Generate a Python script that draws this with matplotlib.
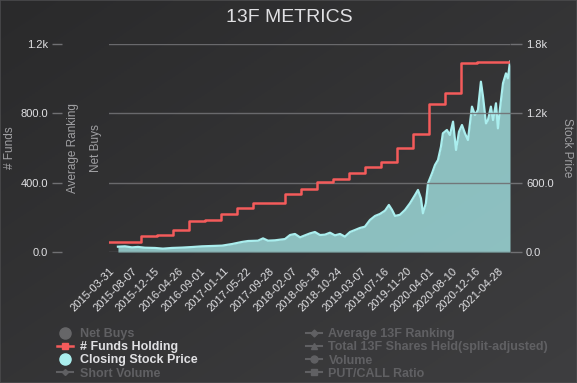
import numpy as np
import pandas as pd
import matplotlib
matplotlib.use('Agg')
import matplotlib.pyplot as plt
from matplotlib.lines import Line2D
from matplotlib.patches import Rectangle

plt.rcParams['font.family'] = ['Liberation Sans', 'DejaVu Sans']

# number of funds holding, quarterly (step series)
fund_dates = ['2015-03-31', '2015-06-30', '2015-09-30', '2015-12-31', '2016-03-31',
              '2016-06-30', '2016-09-30', '2016-12-31', '2017-03-31', '2017-06-30',
              '2017-09-30', '2017-12-31', '2018-03-31', '2018-06-30', '2018-09-30',
              '2018-12-31', '2019-03-31', '2019-06-30', '2019-09-30', '2019-12-31',
              '2020-03-31', '2020-06-30', '2020-09-30', '2020-12-31', '2021-03-31',
              '2021-07-05']
fund_counts = [58, 58, 92, 98, 127, 179, 185, 219, 254, 283,
               285, 335, 363, 404, 421, 456, 490, 519, 600, 681,
               854, 917, 1090, 1096, 1096, 1096]

# closing stock price
price_dates = ['2015-05-21', '2015-06-30', '2015-08-09', '2015-09-12', '2015-10-22',
               '2015-12-18', '2016-02-02', '2016-03-24', '2016-05-20', '2016-07-17',
               '2016-09-12', '2016-11-08', '2017-01-04', '2017-03-02', '2017-04-28',
               '2017-06-01', '2017-07-28', '2017-08-26', '2017-09-23', '2017-11-02',
               '2017-12-29', '2018-01-27', '2018-02-24', '2018-03-25', '2018-04-22',
               '2018-05-21', '2018-06-18', '2018-07-17', '2018-08-14', '2018-09-12',
               '2018-10-10', '2018-11-08', '2018-12-06', '2019-01-04', '2019-02-01',
               '2019-03-02', '2019-03-30', '2019-04-28', '2019-05-27', '2019-06-24',
               '2019-07-23', '2019-08-14', '2019-09-01', '2019-09-18', '2019-10-16',
               '2019-11-14', '2019-12-12', '2020-01-10', '2020-01-27', '2020-02-13',
               '2020-02-24', '2020-03-12', '2020-03-24', '2020-04-16', '2020-05-03',
               '2020-05-20', '2020-06-06', '2020-06-17', '2020-07-10', '2020-07-27',
               '2020-08-14', '2020-08-31', '2020-09-17', '2020-10-04', '2020-10-21',
               '2020-11-07', '2020-11-30', '2020-12-17', '2021-01-03', '2021-01-20',
               '2021-02-01', '2021-02-18', '2021-03-01', '2021-03-18', '2021-03-30',
               '2021-04-16', '2021-04-27', '2021-05-09', '2021-05-26', '2021-06-12',
               '2021-06-23', '2021-07-05']
price_values = [46, 49, 40, 44, 37, 35, 29, 35, 38, 43,
                49, 52, 55, 69, 87, 95, 98, 118, 98, 101,
                112, 147, 156, 127, 144, 161, 173, 147, 150, 167,
                144, 156, 133, 173, 190, 208, 219, 277, 312, 329,
                358, 407, 364, 312, 322, 364, 421, 493, 537, 464,
                335, 421, 594, 681, 753, 796, 911, 1027, 1056, 1012,
                1128, 883, 1041, 1099, 1027, 969, 1258, 1186, 1229, 1474,
                1344, 1113, 1142, 1258, 1142, 1287, 1070, 1244, 1460, 1546,
                1503, 1647]

tick_dates = ['2015-03-31', '2015-08-07', '2015-12-15', '2016-04-26', '2016-09-01',
              '2017-01-11', '2017-05-22', '2017-09-28', '2018-02-07', '2018-06-18',
              '2018-10-24', '2019-03-07', '2019-07-16', '2019-11-20', '2020-04-01',
              '2020-08-10', '2020-12-16', '2021-04-28']

left_ticks = [0, 400, 800, 1200]
left_labels = ['0.0', '400.0', '800.0', '1.2k']
right_ticks = [0, 600, 1200, 1800]
right_labels = ['0.0', '600.0', '1.2k', '1.8k']

W, H = 577, 383
fig = plt.figure(figsize=(W / 100, H / 100), dpi=100)

# dark-unica style gradient background
bg = fig.add_axes([0, 0, 1, 1], zorder=-10)
gx, gy = np.meshgrid(np.linspace(0, 1, 200), np.linspace(0, 1, 200))
grad = (gx + gy) / 2
c0 = np.array([0x2a, 0x2a, 0x2b]) / 255
c1 = np.array([0x3e, 0x3e, 0x40]) / 255
img = c0 + (c1 - c0) * grad[..., None]
bg.imshow(img, aspect='auto', extent=[0, 1, 0, 1], origin='upper')
bg.axis('off')
fig.patches.append(Rectangle((0, 0), 1, 1, transform=fig.transFigure, fill=False,
                             edgecolor='#4a4a4c', lw=1.2))

left, right, top, bottom = 109, 510, 44, 252
ax = fig.add_axes([left / W, 1 - bottom / H, (right - left) / W, (bottom - top) / H])
ax2 = ax.twinx()
ax.set_zorder(ax2.get_zorder() + 1)
ax.patch.set_visible(False)
ax2.patch.set_visible(False)

fd = pd.to_datetime(fund_dates)
pdts = pd.to_datetime(price_dates)

ax2.fill_between(pdts, price_values, 0, color='#aaeeee', alpha=0.75, lw=0)
ax2.plot(pdts, price_values, color='#aaeeee', lw=1.6)
ax.step(fd, fund_counts, where='post', color='#f45b5b', lw=1.8)

ax.set_xlim(pd.Timestamp('2015-03-31'), pd.Timestamp('2021-07-05'))
ax.set_ylim(0, 1200)
ax2.set_ylim(0, 1800)

grid_c = '#707073'
ax.set_yticks(left_ticks)
ax.set_yticklabels(left_labels)
ax2.set_yticks(right_ticks)
ax2.set_yticklabels(right_labels)
ax.yaxis.grid(True, color=grid_c, lw=1.0, alpha=0.9)
for a in (ax, ax2):
    for s in a.spines.values():
        s.set_visible(False)
ax.spines['left'].set_position(('outward', 47 * 0.72))
ax.tick_params(axis='y', length=7.2, width=1, color=grid_c, labelcolor='#E0E0E3',
               labelsize=8, pad=3)
ax2.tick_params(axis='y', length=8.6, width=1, color=grid_c, labelcolor='#E0E0E3',
                labelsize=8, pad=3)

ax.set_xticks(pd.to_datetime(tick_dates))
ax.set_xticklabels(tick_dates, rotation=45, ha='right', va='top',
                   rotation_mode='anchor')
ax.tick_params(axis='x', length=0, labelcolor='#E0E0E3', labelsize=8, pad=10)
ax2.tick_params(axis='x', length=0, labelbottom=False)

title_c = '#A0A0A3'
fig.text(10 / W, 1 - 148 / H, '# Funds', rotation=90, ha='center', va='center',
         color=title_c, fontsize=8.5)
fig.text(73 / W, 1 - 148 / H, 'Average Ranking', rotation=90, ha='center', va='center',
         color=title_c, fontsize=8.5)
fig.text(96 / W, 1 - 148 / H, 'Net Buys', rotation=90, ha='center', va='center',
         color=title_c, fontsize=8.5)
fig.text(567 / W, 1 - 148 / H, 'Stock Price', rotation=270, ha='center', va='center',
         color=title_c, fontsize=8.5)

fig.text(289 / W, 1 - 18 / H, '13F METRICS', ha='center', va='center',
         color='#E0E0E3', fontsize=14)

hid = '#606063'
h1 = [Line2D([], [], ls='none', marker='o', ms=8, color='#666668'),
      Line2D([], [], color='#f45b5b', lw=1.8, marker='s', ms=5),
      Line2D([], [], ls='none', marker='o', ms=8, color='#aaeeee'),
      Line2D([], [], color=hid, lw=1.5, marker='D', ms=3)]
l1 = ['Net Buys', '# Funds Holding', 'Closing Stock Price', 'Short Volume']
h2 = [Line2D([], [], color=hid, lw=1.5, marker='D', ms=3.5),
      Line2D([], [], color=hid, lw=1.5, marker='^', ms=5),
      Line2D([], [], color=hid, lw=1.5, marker='o', ms=5),
      Line2D([], [], color=hid, lw=1.5, marker='s', ms=4.5)]
l2 = ['Average 13F Ranking', 'Total 13F Shares Held(split-adjusted)', 'Volume',
      'PUT/CALL Ratio']

for hs, ls, x0, cols in ((h1, l1, 57, [hid, '#E0E0E3', '#E0E0E3', hid]),
                         (h2, l2, 306, [hid, hid, hid, hid])):
    leg = fig.legend(hs, ls, loc='upper left', bbox_to_anchor=(x0 / W, 1 - 328 / H),
                     frameon=False, borderpad=0, borderaxespad=0, handlelength=1.3,
                     handletextpad=0.5, labelspacing=0.1,
                     prop={'weight': 'bold', 'size': 9})
    for t, c in zip(leg.get_texts(), cols):
        t.set_color(c)

fig.savefig('out.png', dpi=100, facecolor=fig.get_facecolor())
